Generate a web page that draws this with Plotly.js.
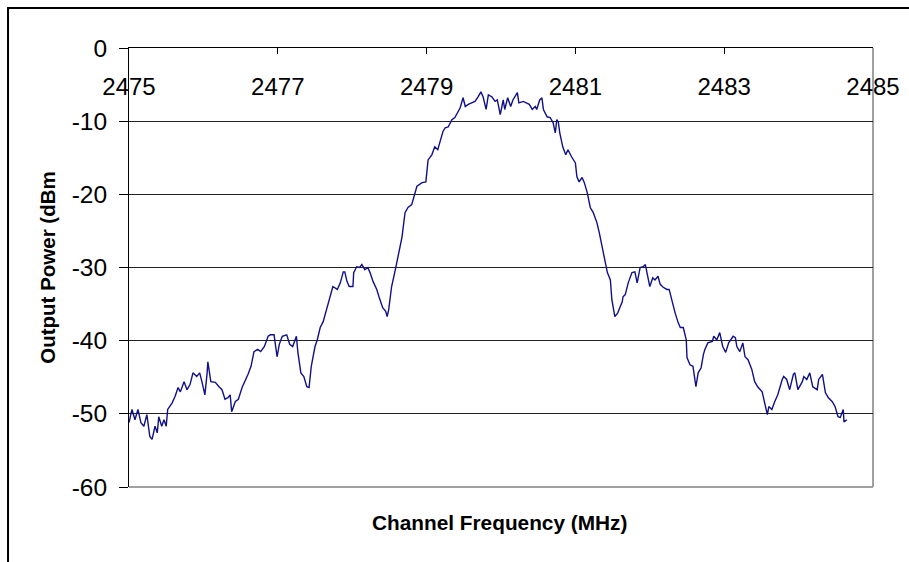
<!DOCTYPE html>
<html>
<head>
<meta charset="utf-8">
<script src="https://cdn.plot.ly/plotly-3.0.1.min.js"></script>
<style>html,body{margin:0;padding:0;background:#fff;}#chart{width:909px;height:562px;}</style>
</head>
<body>
<div id="chart"></div>
<script>
// Channel frequency (MHz)
var freq = [
2475.00,2475.04,2475.08,2475.12,2475.16,2475.20,2475.24,2475.28,2475.31,2475.35,
2475.38,2475.40,2475.44,2475.47,2475.50,2475.52,2475.58,2475.62,2475.66,2475.69,
2475.74,2475.78,2475.82,2475.86,2475.91,2475.95,2475.98,2476.02,2476.05,2476.06,
2476.10,2476.16,2476.21,2476.25,2476.29,2476.33,2476.36,2476.38,2476.43,2476.47,
2476.52,2476.56,2476.60,2476.64,2476.68,2476.73,2476.77,2476.82,2476.87,2476.90,
2476.95,2476.99,2477.02,2477.06,2477.12,2477.16,2477.20,2477.25,2477.27,2477.31,
2477.35,2477.39,2477.42,2477.45,2477.50,2477.53,2477.57,2477.61,2477.65,2477.70,
2477.74,2477.80,2477.84,2477.88,2477.90,2477.93,2477.96,2478.01,2478.02,2478.06,
2478.10,2478.13,2478.17,2478.21,2478.24,2478.28,2478.33,2478.36,2478.39,2478.41,
2478.45,2478.47,2478.49,2478.53,2478.58,2478.62,2478.67,2478.71,2478.75,2478.80,
2478.84,2478.87,2478.94,2478.99,2479.02,2479.07,2479.11,2479.15,2479.22,2479.25,
2479.29,2479.34,2479.38,2479.42,2479.45,2479.49,2479.52,2479.56,2479.61,2479.65,
2479.69,2479.73,2479.76,2479.80,2479.83,2479.88,2479.92,2479.95,2479.99,2480.03,
2480.05,2480.09,2480.13,2480.16,2480.22,2480.24,2480.30,2480.34,2480.38,2480.42,
2480.46,2480.48,2480.52,2480.55,2480.57,2480.62,2480.66,2480.70,2480.73,2480.75,
2480.77,2480.79,2480.83,2480.87,2480.90,2480.95,2481.00,2481.02,2481.05,2481.09,
2481.12,2481.16,2481.20,2481.24,2481.29,2481.32,2481.37,2481.40,2481.43,2481.47,
2481.49,2481.53,2481.56,2481.57,2481.60,2481.63,2481.64,2481.67,2481.71,2481.76,
2481.80,2481.83,2481.87,2481.91,2481.94,2481.96,2482.00,2482.04,2482.07,2482.11,
2482.14,2482.18,2482.23,2482.26,2482.31,2482.34,2482.38,2482.41,2482.45,2482.49,
2482.50,2482.54,2482.58,2482.62,2482.65,2482.69,2482.72,2482.74,2482.78,2482.84,
2482.86,2482.90,2482.94,2482.98,2483.02,2483.06,2483.12,2483.15,2483.17,2483.21,
2483.25,2483.28,2483.32,2483.37,2483.41,2483.45,2483.51,2483.55,2483.58,2483.60,
2483.64,2483.68,2483.72,2483.78,2483.80,2483.84,2483.88,2483.93,2483.95,2483.99,
2484.05,2484.07,2484.11,2484.15,2484.19,2484.25,2484.27,2484.32,2484.36,2484.40,
2484.45,2484.49,2484.53,2484.56,2484.60,2484.61,2484.65
];
// Output power (dBm)
var power = [
-51.2,-49.4,-50.8,-49.4,-51.2,-51.7,-50.1,-53.1,-53.5,-51.7,
-52.6,-50.4,-51.7,-50.8,-51.7,-49.4,-48.5,-47.6,-46.4,-47.0,
-45.6,-46.7,-46.0,-44.4,-44.9,-44.4,-45.6,-47.4,-44.4,-42.9,
-45.6,-45.7,-46.3,-46.7,-48.0,-47.8,-47.4,-49.7,-48.3,-48.0,
-46.4,-45.6,-44.6,-43.5,-41.5,-41.2,-41.5,-40.8,-39.4,-39.2,
-39.2,-42.2,-40.5,-39.4,-39.2,-40.5,-40.8,-39.4,-41.6,-44.4,
-44.9,-46.3,-46.4,-43.5,-40.8,-39.9,-38.2,-37.4,-35.8,-34.0,
-32.6,-33.0,-32.1,-30.6,-30.6,-31.9,-32.6,-32.6,-30.7,-29.9,
-30.0,-29.6,-30.3,-30.0,-30.7,-31.9,-33.0,-34.0,-34.8,-35.5,
-36.0,-36.7,-35.8,-32.6,-30.3,-28.5,-25.8,-22.5,-21.8,-21.4,
-19.8,-18.9,-18.4,-18.3,-15.3,-14.6,-13.5,-13.9,-11.4,-10.9,
-10.8,-9.8,-9.5,-8.7,-8.2,-6.8,-8.0,-7.7,-7.5,-7.3,
-6.7,-6.0,-6.7,-8.4,-6.4,-6.7,-7.3,-7.1,-9.1,-7.1,
-8.4,-6.8,-8.0,-7.1,-6.1,-7.5,-7.3,-7.5,-7.7,-8.4,
-8.0,-8.4,-7.1,-6.8,-8.4,-9.4,-9.5,-10.2,-11.6,-9.8,
-10.1,-11.6,-13.5,-14.6,-13.9,-14.9,-15.7,-17.6,-18.3,-17.7,
-18.4,-19.8,-21.8,-22.5,-23.9,-25.2,-27.6,-29.3,-30.7,-31.7,
-34.4,-36.7,-36.4,-36.2,-35.4,-34.7,-34.0,-33.7,-32.1,-30.7,
-30.6,-32.1,-30.0,-29.9,-29.6,-30.6,-32.6,-31.4,-31.7,-31.2,
-32.3,-32.7,-33.0,-33.0,-35.1,-36.2,-37.5,-38.2,-38.2,-39.9,
-42.3,-43.3,-43.5,-46.3,-44.4,-43.7,-41.9,-41.2,-40.3,-40.1,
-39.4,-39.9,-38.9,-40.8,-41.6,-40.3,-39.4,-39.6,-40.8,-41.5,
-40.3,-42.2,-42.6,-43.9,-45.6,-46.3,-47.0,-49.0,-50.1,-49.0,
-49.4,-48.3,-47.4,-45.3,-44.9,-45.3,-46.7,-44.6,-44.4,-46.7,
-45.6,-44.9,-45.3,-44.4,-46.3,-46.7,-45.3,-44.6,-47.1,-47.8,
-48.3,-49.0,-50.4,-50.5,-49.4,-51.1,-50.8
];
var xTickVals = [2475, 2477, 2479, 2481, 2483, 2485];
var xTickText = ["2475", "2477", "2479", "2481", "2483", "2485"];
var yTickVals = [0, -10, -20, -30, -40, -50, -60];
var yTickText = ["0", "-10", "-20", "-30", "-40", "-50", "-60"];
var xTitle = "Channel Frequency (MHz)";
var yTitle = "Output Power (dBm";

var FONT = "Liberation Sans, Arial, sans-serif";

var trace = {
  x: freq, y: power, type: "scatter", mode: "lines",
  line: {color: "#10108a", width: 1.4},
  hoverinfo: "skip", showlegend: false
};

var layout = {
  width: 909, height: 562,
  margin: {l: 129, r: 36, t: 48, b: 75, pad: 0},
  paper_bgcolor: "#ffffff", plot_bgcolor: "#ffffff",
  font: {family: FONT, color: "#000", size: 24},
  showlegend: false,
  xaxis: {
    range: [2475, 2485], side: "top",
    tickmode: "array", tickvals: xTickVals, ticktext: xTickText,
    ticks: "inside", ticklen: 6, tickwidth: 1, tickcolor: "#000",
    ticklabelposition: "inside", ticklabeloverflow: "allow",
    ticklabelstandoff: 26,
    showline: true, linecolor: "#000", linewidth: 1,
    showgrid: false, zeroline: false,
    tickfont: {family: FONT, size: 24, color: "#000"},
    fixedrange: true
  },
  yaxis: {
    range: [-60, 0],
    tickmode: "array", tickvals: yTickVals, ticktext: yTickText,
    ticks: "outside", ticklen: 9, tickwidth: 1, tickcolor: "#000",
    ticklabelstandoff: 7,
    showline: true, linecolor: "#000", linewidth: 1,
    showgrid: true, gridcolor: "#222", gridwidth: 1,
    zeroline: false,
    tickfont: {family: FONT, size: 24.5, color: "#000"},
    title: {text: yTitle, font: {family: FONT, size: 20.5, color: "#000", weight: "bold"}, standoff: 10},
    automargin: false,
    fixedrange: true
  },
  annotations: [
    {text: xTitle, xref: "paper", yref: "paper", x: 0.498, y: -0.082,
     xanchor: "center", yanchor: "middle", showarrow: false,
     font: {family: FONT, size: 20.8, color: "#000", weight: "bold"}}
  ],
  shapes: [
    {type: "line", xref: "paper", yref: "paper", x0: 1, x1: 1, y0: 0, y1: 1,
     line: {color: "#a0a0a0", width: 2}, layer: "below"},
    {type: "line", xref: "paper", yref: "paper", x0: 0, x1: 1, y0: 0, y1: 0,
     line: {color: "#a0a0a0", width: 2}, layer: "below"},
    {type: "rect", xref: "paper", yref: "paper", x0: -0.1626, x1: 1.06, y0: -0.2, y1: 1.0911,
     line: {color: "#000", width: 2}, fillcolor: "rgba(0,0,0,0)", layer: "above"}
  ]
};

Plotly.newPlot("chart", [trace], layout, {staticPlot: true, displayModeBar: false});
</script>
</body>
</html>
